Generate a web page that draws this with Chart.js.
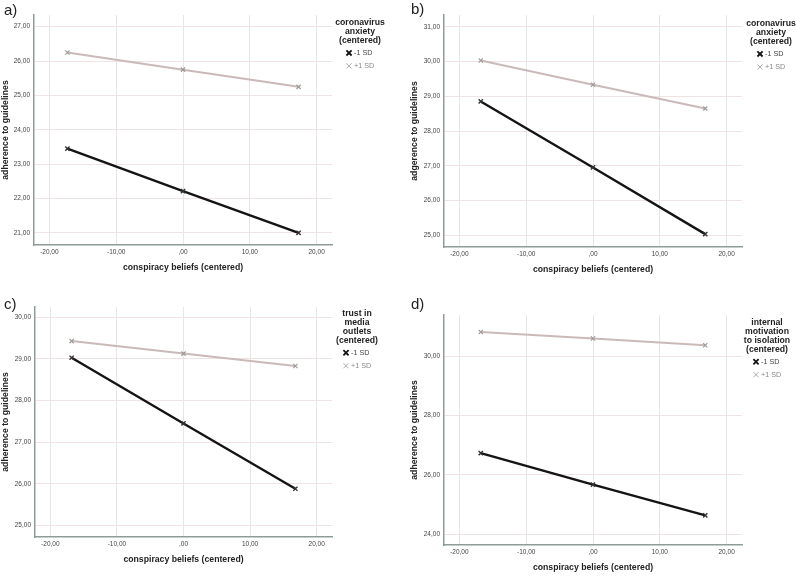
<!DOCTYPE html>
<html>
<head>
<meta charset="utf-8">
<script src="https://cdn.jsdelivr.net/npm/chart.js@4.4.1/dist/chart.umd.min.js"></script>
<style>
  html, body { margin: 0; padding: 0; background: #fff; }
  body { width: 796px; height: 576px; position: relative; overflow: hidden; font-family: "Liberation Sans", Arial, sans-serif; }
  .panel { position: absolute; }
  .letter { position: absolute; font-size: 15px; color: #222; line-height: 1; }
</style>
</head>
<body>
<div class="panel" style="left:0;top:0;width:400px;height:285px"><canvas id="chartA"></canvas></div>
<div class="panel" style="left:400px;top:0;width:396px;height:285px"><canvas id="chartB"></canvas></div>
<div class="panel" style="left:0;top:285px;width:400px;height:291px"><canvas id="chartC"></canvas></div>
<div class="panel" style="left:400px;top:285px;width:396px;height:291px"><canvas id="chartD"></canvas></div>
<div class="letter" style="left:4px;top:2px">a)</div>
<div class="letter" style="left:411px;top:1px">b)</div>
<div class="letter" style="left:4px;top:296px">c)</div>
<div class="letter" style="left:411px;top:296px">d)</div>

<script>
// values
const seriesLabels = ['-1 SD', '+1 SD'];
const xTitle = 'conspiracy beliefs (centered)';
const xTickValues = [-20, -10, 0, 10, 20];

const xValuesA = [-17.3, 0, 17.3];
const lowA  = [23.45, 22.22, 21.00];
const highA = [26.25, 25.75, 25.25];
const yTicksA = [21, 22, 23, 24, 25, 26, 27];

const xValuesB = [-16.8, 0, 16.8];
const lowB  = [28.85, 26.95, 25.03];
const highB = [30.03, 29.33, 28.65];
const yTicksB = [25, 26, 27, 28, 29, 30, 31];

const xValuesC = [-16.8, 0, 16.8];
const lowC  = [29.03, 27.45, 25.88];
const highC = [29.43, 29.13, 28.83];
const yTicksC = [25, 26, 27, 28, 29, 30];

const xValuesD = [-16.8, 0, 16.8];
const lowD  = [26.73, 25.67, 24.64];
const highD = [30.81, 30.59, 30.36];
const yTicksD = [24, 26, 28, 30];

const yTitles = ['adherence to guidelines', 'adgerence to guidelines', 'adherence to guidelines', 'adherence to guidelines'];
const moderatorA = ['coronavirus', 'anxiety', '(centered)'];
const moderatorB = ['coronavirus', 'anxiety', '(centered)'];
const moderatorC = ['trust in', 'media', 'outlets', '(centered)'];
const moderatorD = ['internal', 'motivation', 'to isolation', '(centered)'];

const FONT = '"Liberation Sans", Arial, sans-serif';

function spssFmt(v) {
  const s = Math.abs(v).toFixed(2).replace('.', ',');
  const t = s.startsWith('0,') ? s.slice(1) : s;
  return (v < 0 ? '-' : '') + t;
}

function drawCross(ctx, x, y, r, color, width) {
  ctx.save();
  ctx.strokeStyle = color;
  ctx.lineWidth = width;
  ctx.beginPath();
  ctx.moveTo(x - r, y - r); ctx.lineTo(x + r, y + r);
  ctx.moveTo(x + r, y - r); ctx.lineTo(x - r, y + r);
  ctx.stroke();
  ctx.restore();
}

// moderator legend at the right of each panel
const modLegend = {
  id: 'modLegend',
  afterDraw(chart, args, opts) {
    const ctx = chart.ctx;
    const area = chart.chartArea;
    const cx = area.right + opts.dx;
    let y = area.top + opts.dy;
    ctx.save();
    ctx.textAlign = 'center';
    ctx.textBaseline = 'middle';
    ctx.fillStyle = '#222';
    ctx.font = 'bold 8.7px ' + FONT;
    opts.lines.forEach(line => { ctx.fillText(line, cx, y); y += 8.8; });
    y += 3.5;
    ctx.textAlign = 'left';
    ctx.font = '7.2px ' + FONT;
    chart.data.datasets.forEach((ds, i) => {
      const mx = cx - 11;
      drawCross(ctx, mx, y, 2.6, i === 0 ? '#111' : '#aaa', i === 0 ? 1.8 : 1);
      ctx.fillStyle = i === 0 ? '#444' : '#888';
      ctx.fillText(ds.label, mx + 5, y + 0.5);
      y += 13;
    });
    ctx.restore();
  }
};

function makePanel(id, xs, low, high, yTicks, yTitle, modLines, box) {
  const pts = arr => arr.map((v, i) => ({ x: xs[i], y: v }));
  new Chart(document.getElementById(id), {
    type: 'line',
    data: {
      datasets: [
        {
          label: seriesLabels[0],
          data: pts(low),
          borderColor: '#141414',
          borderWidth: 2.4,
          pointStyle: 'crossRot',
          pointRadius: 3,
          pointBorderColor: '#333',
          pointBorderWidth: 1.4,
          tension: 0
        },
        {
          label: seriesLabels[1],
          data: pts(high),
          borderColor: '#cbb9b9',
          borderWidth: 2,
          pointStyle: 'crossRot',
          pointRadius: 3,
          pointBorderColor: '#a09a9a',
          pointBorderWidth: 1.2,
          tension: 0
        }
      ]
    },
    options: {
      responsive: true,
      maintainAspectRatio: false,
      animation: false,
      layout: { padding: { left: box.padL, top: box.top, right: box.W - box.right, bottom: box.H - box.bottom - 30 } },
      plugins: {
        legend: { display: false },
        tooltip: { enabled: false },
        modLegend: { lines: modLines, dx: box.dx, dy: box.dy }
      },
      scales: {
        x: {
          type: 'linear',
          min: -22.3, max: 22.3,
          afterBuildTicks: s => { s.ticks = xTickValues.map(v => ({ value: v })); },
          afterFit: s => { s.height = 30; },
          ticks: { color: '#444', font: { size: 6.5, family: FONT }, padding: 3, callback: v => spssFmt(v) },
          grid: { color: '#e6e6e6', drawTicks: false },
          border: { color: '#8d9b99', width: 1.5 },
          title: { display: true, text: xTitle, color: '#222', font: { size: 8.7, weight: 'bold', family: FONT }, padding: { top: 0, bottom: 2 } }
        },
        y: {
          min: box.ymin, max: box.ymax,
          afterBuildTicks: s => { s.ticks = yTicks.map(v => ({ value: v })); },
          afterFit: s => { s.width = box.left - box.padL; },
          ticks: { color: '#444', font: { size: 6.5, family: FONT }, padding: 4, callback: v => spssFmt(v) },
          grid: { color: '#f1e3e3', drawTicks: false },
          border: { color: '#8d9b99', width: 1.5 },
          title: { display: true, text: yTitle, color: '#222', font: { size: 8.7, weight: 'bold', family: FONT }, padding: 0 }
        }
      }
    },
    plugins: [modLegend]
  });
}

makePanel('chartA', xValuesA, lowA, highA, yTicksA, yTitles[0], moderatorA,
  { W: 400, H: 285, padL: 0, left: 34, right: 332, top: 15, bottom: 245, ymin: 20.65, ymax: 27.34, dx: 28, dy: 8 });
makePanel('chartB', xValuesB, lowB, highB, yTicksB, yTitles[1], moderatorB,
  { W: 396, H: 285, padL: 9, left: 44, right: 342, top: 15, bottom: 247, ymin: 24.66, ymax: 31.34, dx: 29, dy: 9 });
makePanel('chartC', xValuesC, lowC, highC, yTicksC, yTitles[2], moderatorC,
  { W: 400, H: 291, padL: 0, left: 35, right: 332, top: 22, bottom: 252, ymin: 24.72, ymax: 30.25, dx: 25, dy: 7 });
makePanel('chartD', xValuesD, lowD, highD, yTicksD, yTitles[3], moderatorD,
  { W: 396, H: 291, padL: 9, left: 44, right: 342, top: 30, bottom: 260, ymin: 23.64, ymax: 31.38, dx: 25, dy: 8 });
</script>
</body>
</html>
